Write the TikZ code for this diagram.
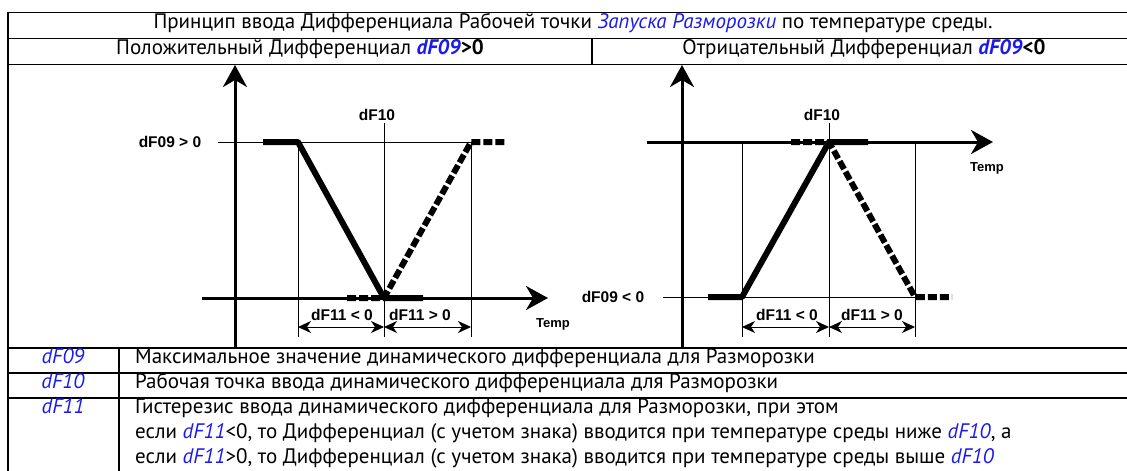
\documentclass[tikz,border=0pt]{standalone}
\usepackage{fontspec}
\setmainfont{PT Sans}
\newfontfamily\graphfont{Liberation Sans}
\usetikzlibrary{arrows.meta, positioning}

\definecolor{parblue}{RGB}{25,25,240}
\newcommand{\prm}[1]{\textcolor{parblue}{\textit{#1}}}
\newcommand{\prmb}[1]{\textcolor{parblue}{\textbf{\textit{#1}}}}

\begin{document}
\begin{tikzpicture}[x=1pt, y=-1pt,
    gridline/.style={line width=1.8pt},
    celltext/.style={font=\fontsize{21}{24}\selectfont, inner sep=0pt, anchor=mid},
    desctext/.style={celltext, anchor=mid west},
    axisline/.style={line width=3pt, -{Stealth[length=22pt, width=24pt, inset=7pt]}},
    thinline/.style={line width=0.9pt},
    curve/.style={line width=6pt, line join=round},
    dcurve/.style={line width=6pt, line join=round, dash pattern=on 9pt off 3pt},
    dimline/.style={line width=0.9pt,
        {Stealth[length=13pt, width=12pt, inset=4pt]}-{Stealth[length=13pt, width=12pt, inset=4pt]}},
    glabel/.style={font=\graphfont\bfseries\fontsize{15.5}{17}\selectfont, inner sep=0pt},
    tlabel/.style={font=\graphfont\bfseries\fontsize{13}{15}\selectfont, inner sep=0pt}
]
    \useasboundingbox (0,0) rectangle (1127,471);

    % ========== table frame ==========
    \draw[gridline] (8,12.5) -- (1127,12.5);
    \draw[gridline] (8,38.5) -- (1127,38.5);
    \draw[gridline] (8,64.5) -- (1127,64.5);
    \draw[gridline] (8,348) -- (1127,348);
    \draw[gridline] (8,373) -- (1127,373);
    \draw[gridline] (8,398) -- (1127,398);
    \draw[gridline] (8,11.6) -- (8,471);
    \draw[gridline] (592,38.5) -- (592,64.5);
    \draw[gridline] (119,348) -- (119,471);

    % ========== header ==========
    \node[celltext] (title) at (573,25.5)
        {Принцип ввода Дифференциала Рабочей точки \prm{Запуска Разморозки} по температуре среды.};
    \node[celltext] (poshead) at (300,51.5)
        {Положительный Дифференциал \prmb{dF09}\textbf{>0}};
    \node[celltext] (neghead) at (864,51.5)
        {Отрицательный Дифференциал \prmb{dF09}\textbf{<0}};

    % ========== positive differential ==========
    \coordinate (p_ybot) at (235,348);
    \coordinate (p_ytop) at (235,65);
    \coordinate (p_xl)   at (202,298);
    \coordinate (p_xr)   at (548,298);
    \coordinate (p_a)    at (263,142);
    \coordinate (p_b)    at (298,142);
    \coordinate (p_c)    at (384,298);
    \coordinate (p_d)    at (423,298);
    \coordinate (p_e)    at (347,298);
    \coordinate (p_f)    at (471,142);
    \coordinate (p_g)    at (506,142);

    \node[glabel] (p_lvl)  at (170,142) {dF09 > 0};
    \node[glabel] (p_set)  at (377,115) {dF10};
    \node[glabel] (p_neg)  at (342,315) {dF11 < 0};
    \node[glabel] (p_pos)  at (420,315) {dF11 > 0};
    \node[tlabel] (p_temp) at (553,324) {Temp};

    \draw[thinline] (218,142) -- (p_f);
    \draw[thinline] (p_b) -- (298,337);
    \draw[thinline] (384,123) -- (384,337);
    \draw[thinline] (p_f) -- (471,337);
    \draw[dimline] (298,327) -- (384,327);
    \draw[dimline] (384,327) -- (471,327);

    \draw[axisline] (p_ybot) -- (p_ytop);
    \draw[axisline] (p_xl) -- (p_xr);

    \draw[curve]  (p_a) -- (p_b) -- (p_c) -- (p_d);
    \draw[dcurve] (p_e) -- (p_c) -- (p_f) -- (p_g);

    % ========== negative differential ==========
    \coordinate (n_ybot) at (682,348);
    \coordinate (n_ytop) at (682,65);
    \coordinate (n_xl)   at (647,142);
    \coordinate (n_xr)   at (993,142);
    \coordinate (n_a)    at (708,297);
    \coordinate (n_b)    at (742,297);
    \coordinate (n_c)    at (829,142);
    \coordinate (n_d)    at (868,142);
    \coordinate (n_e)    at (791,142);
    \coordinate (n_f)    at (915,297);
    \coordinate (n_g)    at (952,297);

    \node[glabel] (n_lvl)  at (613,297) {dF09 < 0};
    \node[glabel] (n_set)  at (822,115) {dF10};
    \node[glabel] (n_neg)  at (787,315) {dF11 < 0};
    \node[glabel] (n_pos)  at (872,315) {dF11 > 0};
    \node[tlabel] (n_temp) at (987,168) {Temp};

    \draw[thinline] (663,297) -- (n_f);
    \draw[thinline] (742,142) -- (742,337);
    \draw[thinline] (829,123) -- (829,337);
    \draw[thinline] (915,142) -- (915,337);
    \draw[dimline] (742,327) -- (829,327);
    \draw[dimline] (829,327) -- (915,327);

    \draw[axisline] (n_ybot) -- (n_ytop);
    \draw[axisline] (n_xl) -- (n_xr);

    \draw[curve]  (n_a) -- (n_b) -- (n_c) -- (n_d);
    \draw[dcurve] (n_e) -- (n_c) -- (n_f) -- (n_g);

    % ========== parameter list ==========
    \node[celltext] (k09) at (63,360.5) {\prm{dF09}};
    \node[desctext] (t09) at (135,360.5)
        {Максимальное значение динамического дифференциала для Разморозки};
    \node[celltext] (k10) at (63,385.5) {\prm{dF10}};
    \node[desctext] (t10) at (135,385.5)
        {Рабочая точка ввода динамического дифференциала для Разморозки};
    \node[celltext] (k11) at (63,411) {\prm{dF11}};
    \node[desctext] (t11a) at (135,411)
        {Гистерезис ввода динамического дифференциала для Разморозки, при этом};
    \node[desctext] (t11b) at (135,436)
        {если \prm{dF11}<0, то Дифференциал (с учетом знака) вводится при температуре среды ниже \prm{dF10}, а};
    \node[desctext] (t11c) at (135,461)
        {если \prm{dF11}>0, то Дифференциал (с учетом знака) вводится при температуре среды выше \prm{dF10}};
\end{tikzpicture}
\end{document}
